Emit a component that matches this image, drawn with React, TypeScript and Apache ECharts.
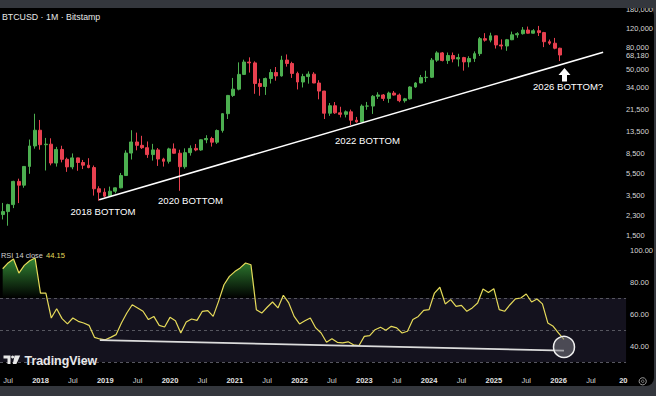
import React, { useEffect, useRef } from 'react';
import * as echarts from 'echarts';

const FONT = '"Liberation Sans", Arial, sans-serif';

// Monthly candles [open, high, low, close] (Bitstamp BTCUSD), Jun 2017 .. Feb 2026
const ohlc2017 = [
  [2330, 2980, 2100, 2480], [2480, 2930, 1840, 2875], [2875, 4760, 2670, 4700],
  [4700, 4980, 2970, 4340], [4340, 6470, 4110, 6450], [6450, 11400, 5520, 9950],
  [9950, 19666, 9400, 13880],
];
const ohlc2018 = [
  [13880, 17250, 9200, 10220], [10220, 11790, 5920, 10330], [10330, 11700, 6600, 6930],
  [6930, 9760, 6430, 9240], [9240, 9990, 7030, 7500], [7500, 7770, 5750, 6390],
  [6390, 8490, 6080, 7730], [7730, 7760, 5880, 7010], [7010, 7400, 6100, 6625],
  [6625, 7680, 6200, 6300], [6300, 6580, 3480, 4020], [4020, 4240, 3120, 3740],
];
const ohlc2019 = [
  [3740, 4060, 3350, 3440], [3440, 4210, 3400, 3820], [3820, 4130, 3650, 4100],
  [4100, 5620, 4060, 5320], [5320, 9070, 5300, 8560], [8560, 13880, 7470, 10820],
  [10820, 13200, 9070, 10080], [10080, 12330, 9340, 9590], [9590, 10940, 7730, 8290],
  [8290, 10400, 7300, 9150], [9150, 9520, 6520, 7550], [7550, 7750, 6430, 7190],
];
const ohlc2020 = [
  [7190, 9580, 6860, 9350], [9350, 10500, 8450, 8530], [8530, 9190, 3850, 6410],
  [6410, 9460, 6150, 8630], [8630, 10070, 8110, 9450], [9450, 10380, 8900, 9140],
  [9140, 11440, 8990, 11340], [11340, 12480, 10540, 11650], [11650, 12070, 9820, 10780],
  [10780, 14100, 10380, 13800], [13800, 19900, 13200, 19700], [19700, 29300, 17600, 28990],
];
const ohlc2021 = [
  [28990, 41970, 28100, 33100], [33100, 58350, 32300, 45240], [45240, 61780, 45000, 58790],
  [58790, 64900, 47000, 57700], [57700, 59600, 30000, 37300], [37300, 41300, 28800, 35040],
  [35040, 42300, 29300, 41490], [41490, 50500, 37300, 47100], [47100, 52900, 39600, 43800],
  [43800, 67000, 43200, 61300], [61300, 69000, 53300, 57000], [57000, 59100, 42000, 46200],
];
const ohlc2022 = [
  [46200, 47900, 32900, 38500], [38500, 45800, 34300, 43200], [43200, 48200, 37200, 45500],
  [45500, 47400, 37600, 37700], [37700, 40000, 26700, 31800], [31800, 31900, 17600, 19900],
  [19900, 24700, 18800, 23300], [23300, 25200, 19600, 20050], [20050, 22800, 18200, 19430],
  [19430, 21100, 18200, 20490], [20490, 21480, 15500, 17160], [17160, 18400, 16300, 16540],
];
const ohlc2023 = [
  [16540, 23960, 16500, 23130], [23130, 25250, 21400, 23150], [23150, 29200, 19600, 28470],
  [28470, 31000, 26900, 29270], [29270, 29850, 25800, 27220], [27220, 31400, 24800, 30470],
  [30470, 31800, 28900, 29230], [29230, 30200, 25100, 25940], [25940, 27500, 24900, 26970],
  [26970, 35200, 26600, 34660], [34660, 38400, 34100, 37720], [37720, 44700, 37600, 42280],
];
const ohlc2024 = [
  [42280, 48900, 38500, 42580], [42580, 64000, 41900, 61180], [61180, 73800, 59000, 71300],
  [71300, 72700, 59600, 60650], [60650, 71900, 56500, 67500], [67500, 71900, 58400, 62700],
  [62700, 70000, 53500, 64600], [64600, 65600, 49000, 58950], [58950, 66500, 52600, 63300],
  [63300, 73600, 58900, 70200], [70200, 99800, 66800, 96400], [96400, 108300, 90500, 93400],
];
const ohlc2025 = [
  [93400, 109300, 89200, 102400], [102400, 102500, 78200, 84350], [84350, 95000, 76600, 82500],
  [82500, 95800, 74500, 94200], [94200, 111900, 93400, 104600], [104600, 110500, 98200, 107100],
  [107100, 123200, 105100, 115700], [115700, 124500, 107300, 108200], [108200, 117900, 107300, 114000],
  [114000, 126200, 102000, 109600], [109600, 111200, 80600, 90400], [90400, 94600, 84400, 87500],
];
const ohlc2026 = [
  [87500, 97900, 77000, 78700], [78700, 79500, 60000, 68180],
];

// RSI(14) on monthly closes, Jun 2017 .. Feb 2026
const rsi2017 = [88.3, 91.9, 94.4, 85.6, 90.4, 93.3, 95.0];
const rsi2018 = [73.1, 73.0, 57.5, 63.3, 57.1, 53.8, 57.5, 55.4, 54.4, 52.9, 45.4, 44.4];
const rsi2019 = [43.9, 45.4, 47.1, 54.4, 60.6, 65.8, 63.8, 61.7, 56.5, 58.5, 52.9, 51.9];
const rsi2020 = [57.9, 55.8, 48.1, 55.0, 56.9, 56.0, 61.7, 62.1, 58.5, 67.9, 78.3, 83.5];
const rsi2021 = [86.5, 88.8, 91.9, 90.8, 62.7, 60.6, 64.2, 67.5, 63.8, 71.7, 66.9, 58.5];
const rsi2022 = [53.8, 55.8, 57.5, 51.3, 48.1, 42.3, 44.6, 42.3, 41.9, 42.6, 40.8, 40.2];
const rsi2023 = [46.0, 46.5, 50.2, 51.7, 49.8, 52.3, 51.3, 48.1, 49.2, 56.5, 58.5, 62.3];
const rsi2024 = [62.7, 73.1, 76.7, 66.3, 69.0, 64.8, 65.4, 61.7, 63.8, 66.9, 75.6, 73.5];
const rsi2025 = [75.8, 62.7, 61.7, 65.8, 69.4, 70.0, 72.5, 67.5, 69.4, 66.3, 54.4, 52.3];
const rsi2026 = [48.0, 44.15];

// Axis ticks
const priceTicks = [180000, 120000, 80000, 68180, 50000, 34000, 21500, 13500, 8500, 5500, 3500, 2300, 1500];
const rsiTicks = [100, 80, 60, 40];
const rsiLevels = [70, 50, 30];
const truncatedYear = '2027';

// Trend lines (category, value)
const priceTrend = [['2018-12', 3180], ['2026-10', 72400]];
const rsiTrend = [['2018-12', 43.7], ['2026-02', 37.1]];
const rsiCircle = ['2026-02', 39.4];

const annotations = [
  { text: '2018 BOTTOM', x: 70.5, y: 211 },
  { text: '2020 BOTTOM', x: 158, y: 200 },
  { text: '2022 BOTTOM', x: 335, y: 140 },
  { text: '2026 BOTTOM?', x: 533, y: 86.5 },
];

// categories Jun 2017 .. Jan 2027
const months: string[] = [];
for (let y = 2017; y <= 2027; y++) {
  for (let m = 1; m <= 12; m++) {
    const key = `${y}-${String(m).padStart(2, '0')}`;
    if (key >= '2017-06' && key <= '2027-01') months.push(key);
  }
}

const ohlc = [
  ...ohlc2017, ...ohlc2018, ...ohlc2019, ...ohlc2020, ...ohlc2021,
  ...ohlc2022, ...ohlc2023, ...ohlc2024, ...ohlc2025, ...ohlc2026,
];
const rsi = [
  ...rsi2017, ...rsi2018, ...rsi2019, ...rsi2020, ...rsi2021,
  ...rsi2022, ...rsi2023, ...rsi2024, ...rsi2025, ...rsi2026,
];

const L = Math.log10;
const candleData = ohlc.map(([o, h, l, c]) => [L(o), L(c), L(l), L(h)]);
const overbought = rsi.map((v) => Math.max(v, 70));

// layout
const GRID_LEFT = -4.4;
const STEP = 5.4375;
const GRID_W = months.length * STEP;
const PRICE_TOP = 6;
const PRICE_H = 244;
const PRICE_MIN = 3.0415;
const PRICE_MAX = 5.2842;
const RSI_TOP = 250;
const RSI_H = 121.6;
const RSI_MIN = 24;
const RSI_MAX = 100;
const rsiY = (v: number) => RSI_TOP + ((RSI_MAX - v) / (RSI_MAX - RSI_MIN)) * RSI_H;

const UP = '#4caf50';
const DOWN = '#e8404f';
const RSI_COLOR = '#e6da5a';

function buildOption(): any {
  const labelStyle = { color: '#d6d6d6', fontSize: 7.5, fontFamily: FONT };
  return {
    animation: false,
    backgroundColor: 'transparent',
    grid: [
      { left: GRID_LEFT, top: PRICE_TOP, width: GRID_W, height: PRICE_H },
      { left: GRID_LEFT, top: RSI_TOP, width: GRID_W, height: RSI_H },
    ],
    xAxis: [
      {
        type: 'category', gridIndex: 0, data: months, boundaryGap: true,
        axisLine: { show: false }, axisTick: { show: false }, axisLabel: { show: false },
        splitLine: { show: false },
      },
      {
        type: 'category', gridIndex: 1, data: months, boundaryGap: true,
        axisLine: { show: false }, axisTick: { show: false }, splitLine: { show: false },
        axisLabel: {
          margin: 5,
          interval: (_i: number, v: string) => v.endsWith('-01') || v.endsWith('-07'),
          formatter: (v: string) => {
            const [y, m] = v.split('-');
            if (m === '07') return '{m|Jul}';
            if (y === truncatedYear) return '{y|' + y.slice(0, 2) + '}';
            return '{y|' + y + '}';
          },
          rich: {
            y: { color: '#e2e2e2', fontSize: 7.5, fontWeight: 'bold', fontFamily: FONT },
            m: { color: '#cfcfcf', fontSize: 7.5, fontFamily: FONT },
          },
        },
      },
    ],
    yAxis: [
      {
        type: 'value', gridIndex: 0, position: 'right', min: PRICE_MIN, max: PRICE_MAX,
        axisLine: { show: false }, axisTick: { show: false }, splitLine: { show: false },
        axisLabel: {
          ...labelStyle, margin: 4,
          customValues: priceTicks.map(L),
          formatter: (v: number) => {
            let best = priceTicks[0];
            for (const p of priceTicks) if (Math.abs(L(p) - v) < Math.abs(L(best) - v)) best = p;
            return best.toLocaleString('en-US');
          },
        },
      },
      {
        type: 'value', gridIndex: 1, position: 'right', min: RSI_MIN, max: RSI_MAX,
        axisLine: { show: false }, axisTick: { show: false }, splitLine: { show: false },
        axisLabel: {
          ...labelStyle, margin: 4,
          customValues: rsiTicks,
          formatter: (v: number) => v.toFixed(2),
        },
      },
    ],
    series: [
      {
        type: 'candlestick', xAxisIndex: 0, yAxisIndex: 0, data: candleData,
        barWidth: 3.4,
        itemStyle: { color: UP, color0: DOWN, borderColor: UP, borderColor0: DOWN, borderWidth: 1 },
        markLine: {
          silent: true, symbol: ['none', 'none'], label: { show: false },
          lineStyle: { color: '#ffffff', width: 1.6, type: 'solid' },
          data: [[
            { coord: [priceTrend[0][0], L(priceTrend[0][1] as number)] },
            { coord: [priceTrend[1][0], L(priceTrend[1][1] as number)] },
          ]],
        },
      },
      {
        type: 'line', xAxisIndex: 1, yAxisIndex: 1, data: overbought, z: 1,
        symbol: 'none', silent: true,
        lineStyle: { width: 0, opacity: 0 },
        areaStyle: {
          origin: 70, opacity: 1,
          color: new echarts.graphic.LinearGradient(0, rsiY(100), 0, rsiY(70), [
            { offset: 0, color: 'rgba(60,160,62,1)' },
            { offset: 1, color: 'rgba(60,160,62,0)' },
          ], true),
        },
        markArea: {
          silent: true,
          itemStyle: { color: '#14121e' },
          data: [[{ yAxis: 30 }, { yAxis: 70 }]],
        },
        markLine: {
          silent: true, symbol: ['none', 'none'], label: { show: false }, z: 1,
          lineStyle: { color: '#56565f', width: 1, type: [3, 3] },
          data: rsiLevels.map((v) => ({ yAxis: v })),
        },
      },
      {
        type: 'line', xAxisIndex: 1, yAxisIndex: 1, data: rsi, z: 3,
        symbol: 'none', silent: true,
        lineStyle: { color: RSI_COLOR, width: 1.2 },
        markLine: {
          silent: true, symbol: ['none', 'none'], label: { show: false },
          lineStyle: { color: '#dcdcdc', width: 1.8, type: 'solid' },
          data: [[
            { coord: rsiTrend[0] },
            { coord: rsiTrend[1] },
          ]],
        },
        markPoint: {
          silent: true,
          data: [{
            coord: rsiCircle, symbol: 'circle', symbolSize: 21,
            itemStyle: { color: 'rgba(120,120,130,0.55)', borderColor: '#f0f0f0', borderWidth: 1.5 },
            label: { show: false },
          }],
        },
      },
    ],
    graphic: [
      {
        type: 'text', x: 2, y: 16.5, z: 10,
        style: { text: 'BTCUSD · 1M · Bitstamp', fill: '#e8e8e8', fontSize: 8.8, fontFamily: FONT, verticalAlign: 'middle' },
      },
      {
        type: 'text', x: 1, y: 255.5, z: 10,
        style: { text: 'RSI 14 close', fill: '#d2d2d2', fontSize: 7.4, fontFamily: FONT, verticalAlign: 'middle' },
      },
      {
        type: 'text', x: 46, y: 255.5, z: 10,
        style: { text: rsi[rsi.length - 1].toFixed(2), fill: RSI_COLOR, fontSize: 7.6, fontFamily: FONT, verticalAlign: 'middle' },
      },
      ...annotations.map((a) => ({
        type: 'text', x: a.x, y: a.y, z: 10,
        style: { text: a.text, fill: '#ffffff', fontSize: 9.6, fontFamily: FONT, verticalAlign: 'middle' },
      })),
      {
        type: 'polygon', z: 10,
        shape: { points: [[564.5, 68], [570.5, 75], [567, 75], [567, 81.5], [562, 81.5], [562, 75], [558.5, 75]] },
        style: { fill: '#ffffff' },
      },
      // TradingView watermark
      {
        type: 'polygon', z: 10,
        shape: { points: [[3.5, 355.5], [10.5, 355.5], [10.5, 364], [7.5, 364], [7.5, 358.5], [3.5, 358.5]] },
        style: { fill: '#e8e8e8' },
      },
      { type: 'circle', z: 10, shape: { cx: 12.6, cy: 357, r: 1.5 }, style: { fill: '#e8e8e8' } },
      {
        type: 'polygon', z: 10,
        shape: { points: [[14.6, 355.5], [20.2, 355.5], [16.4, 364], [12.8, 364]] },
        style: { fill: '#e8e8e8' },
      },
      {
        type: 'text', x: 24.5, y: 360.5, z: 10,
        style: { text: 'TradingView', fill: '#e8e8e8', fontSize: 12.4, fontWeight: 'bold', fontFamily: FONT, verticalAlign: 'middle' },
      },
      // settings icon
      { type: 'circle', z: 10, shape: { cx: 642.7, cy: 381.3, r: 3.6 }, style: { fill: 'none', stroke: '#9a9a9a', lineWidth: 1 } },
      { type: 'circle', z: 10, shape: { cx: 642.7, cy: 381.3, r: 1.3 }, style: { fill: 'none', stroke: '#9a9a9a', lineWidth: 0.8 } },
    ],
  };
}

export default function App() {
  const ref = useRef<HTMLDivElement>(null);
  useEffect(() => {
    if (!ref.current) return;
    const chart = echarts.init(ref.current, null, { renderer: 'svg' });
    chart.setOption(buildOption());
    return () => chart.dispose();
  }, []);
  return (
    <div style={{ position: 'fixed', left: 0, top: 0, width: 656, height: 396, background: '#34373d', overflow: 'hidden' }}>
      <div style={{ position: 'absolute', left: -12, top: 7, width: 666, height: 379, background: '#000', borderRadius: 8 }} />
      <div ref={ref} style={{ position: 'absolute', left: 0, top: 0, width: 656, height: 396 }} />
      <div style={{ position: 'absolute', left: 0, top: 0, width: 656, height: 8, background: '#34373d' }} />
    </div>
  );
}
